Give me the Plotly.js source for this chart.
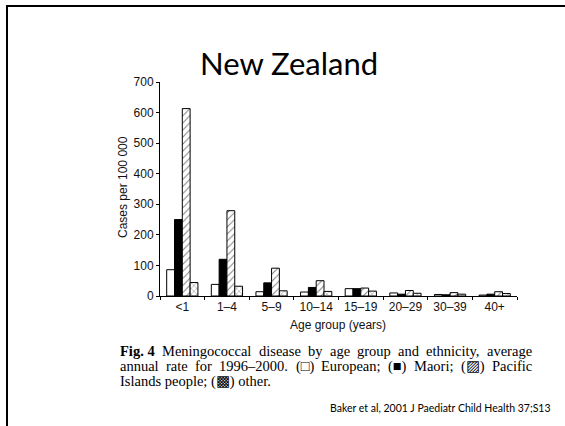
<!DOCTYPE html>
<html><head><meta charset="utf-8">
<script src="https://cdn.plot.ly/plotly-3.0.1.min.js"></script>
<style>html,body{margin:0;padding:0;background:#fff}#chart{width:565px;height:426px}</style>
</head><body><div id="chart"></div>
<script>
const categories = ['<1','1–4','5–9','10–14','15–19','20–29','30–39','40+'];
const european = [86, 38, 14, 13, 24, 10, 5, 3];
const maori    = [250, 120, 43, 28, 24, 6, 4, 6];
const pacific  = [613, 279, 91, 50, 26, 18, 11, 14];
const other    = [44, 32, 17, 15, 16, 9, 6, 8];
const yTicks = [0,100,200,300,400,500,600,700];

const L=160,R=517,T=82,B=296,W=565,H=426;
const xp = p => (p-L)/(R-L);
const yp = p => (B-p)/(B-T);

const line = {color:'#000', width:1};
const traces = [
  {type:'bar', name:'European', x:categories, y:european, marker:{color:'#fff', line}},
  {type:'bar', name:'Maori', x:categories, y:maori, marker:{color:'#000', line}},
  {type:'bar', name:'Pacific Islands people', x:categories, y:pacific,
   marker:{color:'#fff', line, pattern:{shape:'/', fgcolor:'#777', bgcolor:'#fff', size:5, solidity:0.18}}},
  {type:'bar', name:'other', x:categories, y:other,
   marker:{color:'#fff', line, pattern:{shape:'x', fgcolor:'#777', bgcolor:'#fff', size:4, solidity:0.2}}}
];

const serif = 'Liberation Serif';
const capSize = 14.5;
const ctx = document.createElement('canvas').getContext('2d');
function measure(t, bold){ ctx.font = (bold?'bold ':'') + capSize + 'px "' + serif + '"'; return ctx.measureText(t).width; }

const annotations = [];
function addText(t, px, py, bold, anchor){
  annotations.push({xref:'paper', yref:'paper', x:xp(px), y:yp(py), xanchor:anchor||'left', yanchor:'middle',
    text: bold ? '<b>'+t+'</b>' : t, showarrow:false, font:{family:serif, size:capSize, color:'#000'}});
}
function justify(words, py, x0, x1){
  const widths = words.map(w => measure(w.t, w.b));
  const total = widths.reduce((a,b)=>a+b,0);
  const gap = (x1-x0-total)/(words.length-1);
  let x = x0;
  words.forEach((w,i)=>{ addText(w.t, x, py, w.b); x += widths[i] + gap; });
}
const capX0 = 118, capX1 = 530;
justify([{t:'Fig. 4',b:true},{t:'Meningococcal'},{t:'disease'},{t:'by'},{t:'age'},{t:'group'},{t:'and'},{t:'ethnicity,'},{t:'average'}], 351, capX0, capX1);
justify([{t:'annual'},{t:'rate'},{t:'for'},{t:'1996–2000.'},{t:'(□)'},{t:'European;'},{t:'(■)'},{t:'Maori;'},{t:'(▨)'},{t:'Pacific'}], 366, capX0, capX1);
addText('Islands people; (▩) other.', capX0, 381, false);

annotations.push({xref:'paper', yref:'paper', x:xp(289), y:yp(63), xanchor:'center', yanchor:'middle',
  text:'New Zealand', showarrow:false, font:{family:'Lato', size:31, color:'#000'}});
annotations.push({xref:'paper', yref:'paper', x:xp(123), y:yp(187), xanchor:'center', yanchor:'middle', textangle:-90,
  text:'Cases per 100 000', showarrow:false, font:{family:'Liberation Sans', size:12, color:'#111'}});
annotations.push({xref:'paper', yref:'paper', x:xp(338), y:yp(325), xanchor:'center', yanchor:'middle',
  text:'Age group (years)', showarrow:false, font:{family:'Liberation Sans', size:12, color:'#111'}});
annotations.push({xref:'paper', yref:'paper', x:xp(553), y:yp(408), xanchor:'right', yanchor:'middle',
  text:'Baker et al, 2001 J Paediatr Child Health 37;S13', showarrow:false, font:{family:'Lato', size:10.5, color:'#000'}});

const shapes = [
  {type:'line', xref:'paper', yref:'paper', x0:xp(6), x1:xp(566), y0:yp(6), y1:yp(6), line:{color:'#000', width:2}},
  {type:'line', xref:'paper', yref:'paper', x0:xp(7), x1:xp(7), y0:yp(5), y1:yp(427), line:{color:'#000', width:2}}
];

const layout = {
  width:W, height:H, margin:{l:L, r:W-R, t:T, b:H-B, pad:0},
  paper_bgcolor:'#fff', plot_bgcolor:'#fff', showlegend:false,
  barmode:'group', bargap:0.3, bargroupgap:0,
  font:{family:'Liberation Sans', color:'#111'},
  xaxis:{type:'category', showline:true, linecolor:'#000', linewidth:1, ticks:'outside', tickson:'boundaries',
    ticklen:3, tickcolor:'#000', showgrid:false, zeroline:false, tickfont:{size:12, family:'Liberation Sans', color:'#111'}},
  yaxis:{range:[0,700], tickvals:yTicks, showline:true, linecolor:'#000', linewidth:1, ticks:'outside', ticklen:3,
    tickcolor:'#000', showgrid:false, zeroline:false, tickfont:{size:12, family:'Liberation Sans', color:'#111'}},
  annotations, shapes
};
Plotly.newPlot('chart', traces, layout, {staticPlot:true, displayModeBar:false});
</script></body></html>
